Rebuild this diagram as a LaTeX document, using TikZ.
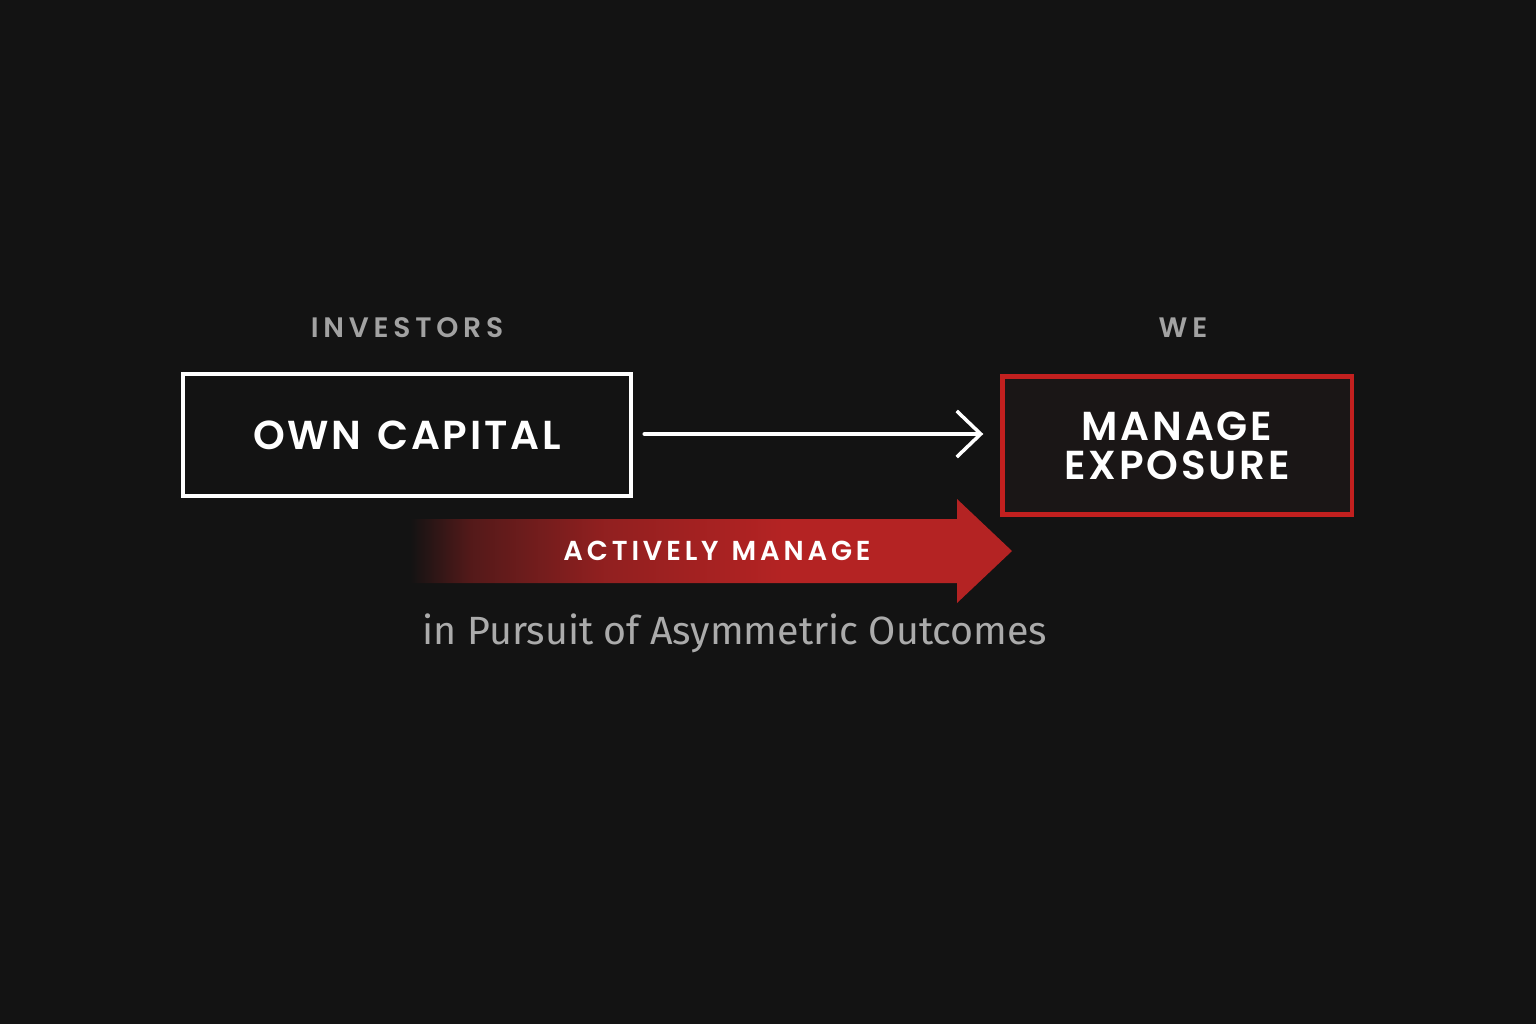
\documentclass[tikz,border=0pt]{standalone}
\usepackage{fontspec}
\setmainfont{Poppins}
\newfontfamily\tagfont{Poppins SemiBold}[LetterSpace=17]
\newfontfamily\headfont{Poppins SemiBold}[LetterSpace=7, WordSpace=1.25]
\newfontfamily\bandfont{Poppins SemiBold}[LetterSpace=14, WordSpace=1.25]
\newfontfamily\subfont{Fira Sans}
\usetikzlibrary{positioning, arrows.meta}

\definecolor{bgcol}{HTML}{131313}
\definecolor{boxred}{HTML}{C2201F}
\definecolor{arrowred}{HTML}{B42323}
\definecolor{taggray}{HTML}{A2A2A2}
\definecolor{subgray}{HTML}{ABABAB}
\definecolor{boxfill}{HTML}{1A1616}

\pgfdeclarehorizontalshading{redfade}{100bp}{color(0bp)=(bgcol); color(25bp)=(bgcol); color(30bp)=(arrowred!40!bgcol); color(41bp)=(arrowred!78!bgcol); color(56bp)=(arrowred); color(100bp)=(arrowred)}

\begin{document}
\begin{tikzpicture}[x=0.01cm, y=-0.01cm]
    % Define styles
    \tikzstyle{tag} = [text=taggray, font=\tagfont\fontsize{8}{9}\selectfont]
    \tikzstyle{plainbox} = [rectangle, draw=white, line width=1.2pt, minimum width=4.48cm, minimum height=1.22cm, text=white, font=\headfont\fontsize{11.5}{12}\selectfont]
    \tikzstyle{redbox} = [rectangle, draw=boxred, fill=boxfill, line width=1.2pt, minimum width=3.49cm, minimum height=1.38cm, text=white, align=center, font=\headfont\fontsize{11.5}{11.1}\selectfont]
    \tikzstyle{flow} = [white, line width=1pt, line cap=round, -{Straight Barb[length=2.4mm, width=4.6mm, line width=1pt]}]
    \tikzstyle{band} = [text=white, font=\bandfont\fontsize{7.8}{9}\selectfont]
    \tikzstyle{subtitle} = [text=subgray, font=\subfont\fontsize{11.2}{13}\selectfont]

    % Background and page size
    \fill[bgcol] (0,0) rectangle (1536,1024);
    \useasboundingbox (0,0) rectangle (1536,1024);

    % The two boxes
    \node (capital) [plainbox] at (407, 435) {OWN CAPITAL};
    \node (exposure) [redbox] at (1177, 445.5) {MANAGE\\EXPOSURE};

    % Headings above the boxes
    \node (investors) [tag] at (407, 328) {INVESTORS};
    \node (we) [tag] at (1183, 328) {WE};

    % Connection between the boxes
    \draw [flow, shorten <=0.11cm, shorten >=0.17cm] (capital.east |- 0,434) -- (exposure.west |- 0,434);

    % Red band arrow
    \shade [shading=redfade] (410,519) -- (957,519) -- (957,499) -- (1012,551) -- (957,603) -- (957,583) -- (410,583) -- cycle;
    \node (actively) [band] at (717, 551) {ACTIVELY MANAGE};

    % Closing line
    \node (pursuit) [subtitle] at (735, 633) {in Pursuit of Asymmetric Outcomes};
\end{tikzpicture}
\end{document}
